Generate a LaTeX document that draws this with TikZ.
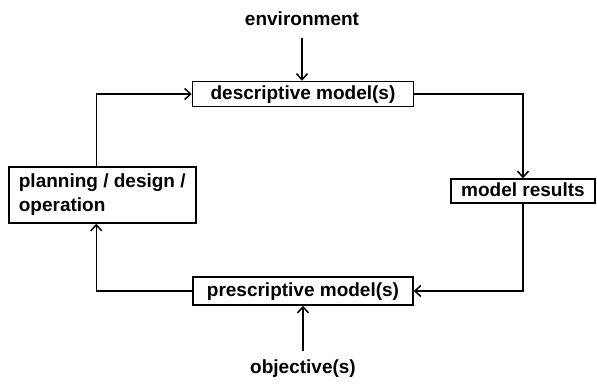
\documentclass[tikz,border=0pt]{standalone}
\usepackage{fontspec}
\setmainfont{Liberation Sans}
\usetikzlibrary{arrows.meta}
\begin{document}
\begin{tikzpicture}[x=1pt,y=-1pt,
  every node/.style={font=\fontsize{19}{24}\selectfont\bfseries},
  box/.style={draw, line width=1.5pt, inner xsep=10pt, inner ysep=0pt,
    text height=14pt, text depth=4pt},
  twoline/.style={draw, line width=1.5pt, align=left, inner xsep=10pt, inner ysep=5pt},
  flow/.style={line width=1.5pt, -{Straight Barb[length=6pt,width=11pt]}},
  plain/.style={line width=1.5pt}]
  \useasboundingbox (0,0) rectangle (597,384);

  % boxes of the cycle
  \node[box, minimum width=221pt, minimum height=25pt] (desc) at (303,94) {descriptive model(s)};
  \node[box, minimum width=144pt, minimum height=24pt] (res) at (523,191) {model results};
  \node[box, minimum width=220pt, minimum height=28pt] (presc) at (303,291) {prescriptive model(s)};
  \node[twoline, minimum width=187pt, minimum height=56pt, anchor=west] (plan) at (8,195)
    {planning / design /\\operation};

  % external inputs
  \node (env) at (302,19) {environment};
  \node (obj) at (303,369) {objective(s)};

  % connectors
  \draw[flow] ([yshift=-8pt]env.south) -- (env.south |- desc.north);
  \draw[flow] (desc.east) -| (res.north);
  \draw[flow] (res.south) |- (presc.east);
  \draw[plain] (presc.west) -- ([xshift=-6pt]plan.south |- presc.west);
  \draw[flow] ([xshift=-6pt]plan.south |- presc.west) -- ([xshift=-6pt]plan.south);
  \draw[flow] ([xshift=-6pt]plan.north) |- (desc.west);
  \draw[flow] ([yshift=6pt]obj.north) -- (obj.north |- presc.south);
\end{tikzpicture}
\end{document}
